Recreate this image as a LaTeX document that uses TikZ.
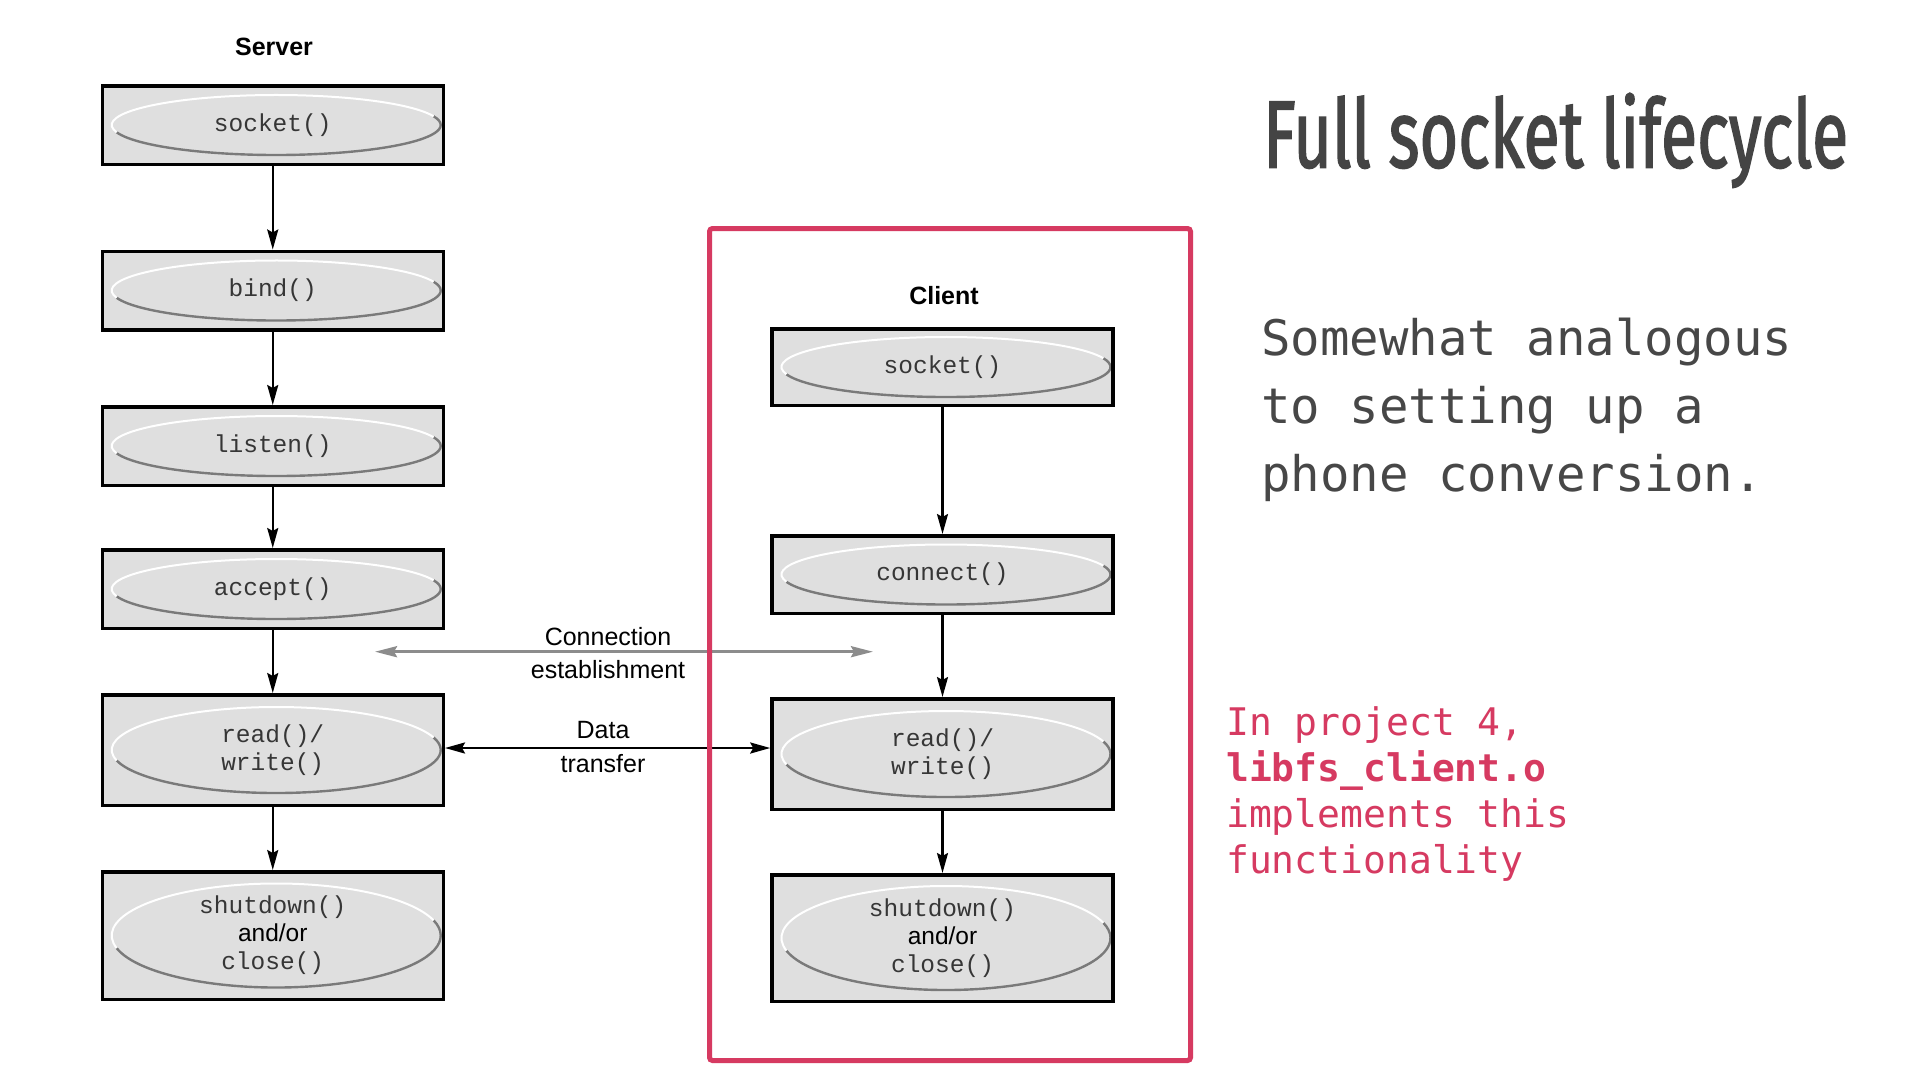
\documentclass[tikz,border=0pt]{standalone}
\usepackage{fontspec}
\setmainfont{Liberation Sans}
\setsansfont{Liberation Sans}
\setmonofont{Liberation Mono}
\newfontfamily\titlefont{Fira Sans}[BoldFont=*, BoldFeatures={FakeBold=2}]
\newfontfamily\slidemono{DejaVu Sans Mono}
\usetikzlibrary{arrows.meta}

\definecolor{boxgray}{HTML}{DFDFDF}
\definecolor{rimgray}{HTML}{7A7A7A}
\definecolor{accent}{HTML}{D63A61}
\definecolor{titlegray}{HTML}{444444}
\definecolor{bodygray}{HTML}{474747}
\definecolor{codegray}{HTML}{363636}
\definecolor{linkgray}{HTML}{8C8C8C}

\tikzset{
  ell ry/.store in=\ellry, ell ry=30,
  callbox/.style={
    draw=black, line width=3.5pt, fill=boxgray,
    minimum width=341pt, inner sep=0pt, align=center,
    font=\fontsize{24.5}{28}\selectfont\ttfamily, text=codegray,
    path picture={
      \draw[rimgray, line width=2.4pt]
        ([xshift=3.5pt]path picture bounding box.center) ++(194:164.5pt and \ellry pt)
        arc[start angle=194, end angle=377, x radius=164.5pt, y radius=\ellry pt];
      \draw[white, line width=2pt]
        ([xshift=3.5pt]path picture bounding box.center) ++(17:164.5pt and \ellry pt)
        arc[start angle=17, end angle=194, x radius=164.5pt, y radius=\ellry pt];
    }},
  heading/.style={font=\fontsize{25}{25}\selectfont\bfseries, text=black, inner sep=0pt, anchor=base},
  caption/.style={font=\fontsize{25}{25}\selectfont, text=black, inner sep=0pt, anchor=base},
  flow/.style={draw=black, line width=2.2pt, -{Stealth[length=20pt, width=11pt, inset=3pt]}},
  xfer/.style={draw=black, line width=2.6pt, {Stealth[length=20pt, width=11pt, inset=3pt]}-{Stealth[length=20pt, width=11pt, inset=3pt]}},
  handshake/.style={draw=linkgray, line width=3pt, {Stealth[length=22pt, width=11pt, inset=3pt]}-{Stealth[length=22pt, width=11pt, inset=3pt]}},
  slidetext/.style={anchor=base west, inner sep=0pt, font=\slidemono\fontsize{49}{68}\selectfont, text=bodygray},
  notetext/.style={anchor=base west, inner sep=0pt, font=\slidemono\fontsize{38}{46}\selectfont, text=accent},
}
\newcommand\andor{{\rmfamily\color{black}and/or}}

\begin{document}
\begin{tikzpicture}[x=1pt, y=1pt]
  \fill[white] (0,0) rectangle (1922,-1074);
  \useasboundingbox (0,0) rectangle (1922,-1074);

  % server side
  \node[heading] (server) at (274,-55) {Server};
  \node[callbox, minimum height=78.5pt] (s1) at (272.75,-125) {socket()};
  \node[callbox, minimum height=78.5pt] (s2) at (272.75,-290.5) {bind()};
  \node[callbox, minimum height=78.5pt] (s3) at (272.75,-446) {listen()};
  \node[callbox, minimum height=78.5pt] (s4) at (272.75,-589) {accept()};
  \node[callbox, minimum height=110.5pt, ell ry=43] (s5) at (272.75,-750) {read()/\\write()};
  \node[callbox, minimum height=127.5pt, ell ry=52] (s6) at (272.75,-935.5) {shutdown()\\\andor\\close()};

  % client side
  \node[heading] (client) at (944,-304) {Client};
  \node[callbox, minimum height=76.5pt] (c1) at (942.5,-367) {socket()};
  \node[callbox, minimum height=77.5pt] (c2) at (942.5,-574.5) {connect()};
  \node[callbox, minimum height=110.5pt, ell ry=43] (c3) at (942.5,-754) {read()/\\write()};
  \node[callbox, minimum height=126.5pt, ell ry=52] (c4) at (942.5,-938) {shutdown()\\\andor\\close()};

  % call order
  \draw[flow] (s1) -- (s2);
  \draw[flow] (s2) -- (s3);
  \draw[flow] (s3) -- (s4);
  \draw[flow] (s4) -- (s5);
  \draw[flow] (s5) -- (s6);
  \draw[flow] (c1) -- (c2);
  \draw[flow] (c2) -- (c3);
  \draw[flow] (c3) -- (c4);

  % connection setup and data exchange
  \coordinate (hs-l) at (375,-651.7);
  \coordinate (hs-r) at (873,-651.7);
  \draw[handshake] (hs-l) -- (hs-r);
  \node[caption] (hs-1) at (608,-645) {Connection};
  \node[caption] (hs-2) at (608,-678) {establishment};

  \draw[xfer] ([yshift=2pt]s5.east) -- ([yshift=2pt]s5.east -| c3.west);
  \node[caption] (dt-1) at (603,-738) {Data};
  \node[caption] (dt-2) at (603,-772.7) {transfer};

  % client highlight frame
  \node[draw=accent, line width=5pt, rounded corners=3pt, minimum width=481pt,
        minimum height=832pt, inner sep=0pt] (frame) at (950,-644.5) {};

  % slide text
  \node[anchor=base west, inner sep=0pt, text=titlegray] (title) at (1263,-167.3)
    {\resizebox{585pt}{\height}{\fontsize{95}{100}\selectfont\titlefont\bfseries Full socket lifecycle}};

  \node[slidetext] (b1) at (1261,-355) {Somewhat analogous};
  \node[slidetext] (b2) at (1261,-423) {to setting up a};
  \node[slidetext] (b3) at (1261,-491) {phone conversion.};

  \node[notetext] (n1) at (1226,-735) {In project 4,};
  \node[notetext] (n2) at (1226,-781) {\bfseries libfs\_client.o};
  \node[notetext] (n3) at (1226,-827) {implements this};
  \node[notetext] (n4) at (1226,-873) {functionality};
\end{tikzpicture}
\end{document}
